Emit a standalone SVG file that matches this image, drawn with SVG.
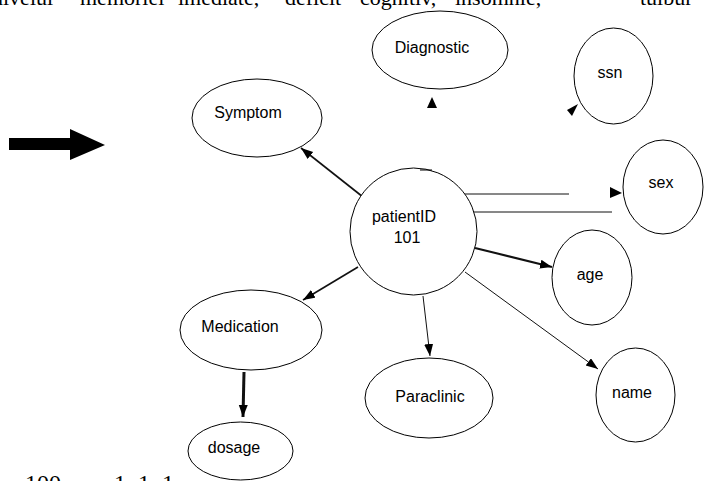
<svg xmlns="http://www.w3.org/2000/svg" width="706" height="481" viewBox="0 0 706 481">
<style>
.n{fill:#fff;stroke:#000;stroke-width:1}
.t{font-family:"Liberation Sans",Arial,sans-serif;font-size:16px;fill:#000;text-anchor:middle}
.doc{font-family:"Liberation Serif","Times New Roman",serif;font-size:22px;fill:#000}
.c{stroke:#111;fill:none}
</style>
<defs>
<marker id="ah" markerUnits="userSpaceOnUse" markerWidth="13" markerHeight="10" refX="12" refY="4.5" orient="auto">
<path d="M0,0 L12,4.5 L0,9 z" fill="#000"/>
</marker>
</defs>
<rect width="706" height="481" fill="#fff"/>
<text class="doc" y="5"><tspan x="-8">nivelul</tspan><tspan x="80">memoriei</tspan><tspan x="178">imediate,</tspan><tspan x="285">deficit</tspan><tspan x="360">cognitiv,</tspan><tspan x="455">insomnie,</tspan><tspan x="640">tulbur</tspan></text>
<text class="doc" style="font-size:24px" y="491"><tspan x="25">100</tspan><tspan x="114">1</tspan><tspan x="138">1</tspan><tspan x="162">1</tspan></text>
<polygon points="9,138 70,138 70,129 105,145 70,160 70,150 9,150" fill="#000"/>
<g id="connectors">
<line class="c" x1="363" y1="197" x2="301" y2="148" stroke-width="1.6" marker-end="url(#ah)"/>
<line class="c" x1="358" y1="267" x2="303" y2="300" stroke-width="1.6" marker-end="url(#ah)"/>
<line class="c" x1="423" y1="296" x2="430" y2="356" stroke-width="1" marker-end="url(#ah)"/>
<line class="c" x1="465" y1="272" x2="598" y2="369" stroke-width="1" marker-end="url(#ah)"/>
<line class="c" x1="475" y1="248" x2="552" y2="267" stroke-width="2" marker-end="url(#ah)"/>
<line class="c" x1="464" y1="194" x2="569" y2="194" stroke-width="1"/>
<line class="c" x1="470" y1="212" x2="612" y2="212" stroke-width="1"/>
<polygon points="610,187 622,193 610,198" fill="#000"/>
<polygon points="432,97 437,108 427,108" fill="#000"/>
<polygon points="567,110 578,104 572,116" fill="#000"/>
<line class="c" x1="244" y1="372" x2="243" y2="417" stroke-width="3" stroke="#000" marker-end="url(#ah)"/>
</g>
<g id="diagnostic"><ellipse class="n" cx="440" cy="50" rx="68" ry="39"/><text class="t" x="432" y="53">Diagnostic</text></g>
<g id="ssn"><ellipse class="n" cx="613.5" cy="76" rx="39.5" ry="48"/><text class="t" x="610" y="78">ssn</text></g>
<g id="symptom"><ellipse class="n" cx="257" cy="118" rx="65" ry="39"/><text class="t" x="248" y="118">Symptom</text></g>
<g id="patient"><circle class="n" cx="413.5" cy="231.5" r="63.5"/><line x1="420" y1="170" x2="432" y2="170" stroke="#000" stroke-width="1"/><text class="t" x="404" y="222">patientID</text><text class="t" x="407" y="243">101</text></g>
<g id="sex"><ellipse class="n" cx="663" cy="187" rx="40" ry="47"/><text class="t" x="661" y="188">sex</text></g>
<g id="age"><ellipse class="n" cx="592" cy="277.5" rx="40" ry="47.5"/><text class="t" x="590" y="280">age</text></g>
<g id="name"><ellipse class="n" cx="635.5" cy="395" rx="39.5" ry="47"/><text class="t" x="632" y="398">name</text></g>
<g id="medication"><ellipse class="n" cx="251" cy="330" rx="71" ry="40"/><text class="t" x="240" y="332">Medication</text></g>
<g id="paraclinic"><ellipse class="n" cx="429" cy="398" rx="64" ry="40"/><text class="t" x="430" y="402">Paraclinic</text></g>
<g id="dosage"><ellipse class="n" cx="240.5" cy="451" rx="52.5" ry="29"/><text class="t" x="234" y="453">dosage</text></g>
</svg>
